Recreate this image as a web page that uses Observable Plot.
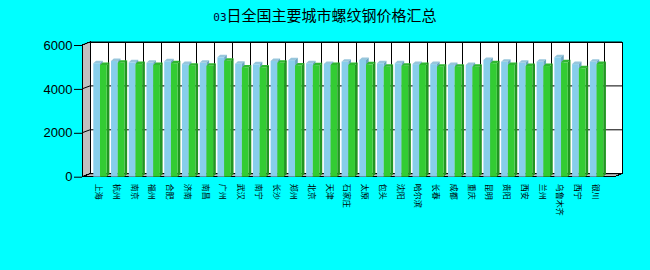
<!DOCTYPE html>
<html><head><meta charset="utf-8">
<script src="https://cdn.jsdelivr.net/npm/d3@7"></script>
<script src="https://cdn.jsdelivr.net/npm/@observablehq/plot@0.6"></script>
<style>
html,body{margin:0;padding:0;background:#00ffff;}
#title{height:30px;width:650px;text-align:center;font-family:"Noto Sans CJK SC";font-size:15px;line-height:30px;color:#000;}
#title .num{font-family:"DejaVu Sans Mono";font-size:11px;color:#000033;}
</style></head><body>
<div id="title"><span class="num">03</span>日全国主要城市螺纹钢价格汇总</div>
<div id="chart"></div>
<script>
const cities = ["上海","杭州","南京","福州","合肥","济南","南昌","广州","武汉","南宁","长沙","郑州","北京","天津","石家庄","太原","包头","沈阳","哈尔滨","长春","成都","重庆","昆明","贵阳","西安","兰州","乌鲁木齐","西宁","银川"];
const priceA = [5170,5270,5210,5190,5260,5130,5190,5440,5150,5120,5270,5310,5170,5140,5240,5320,5170,5170,5130,5130,5090,5090,5320,5240,5190,5240,5440,5130,5240];
const priceB = [5090,5190,5130,5090,5170,5060,5050,5280,4980,4980,5190,5070,5080,5090,5090,5120,5010,5060,5090,5010,5010,5010,5170,5090,5040,5040,5210,4940,5130];
const yTicks = [0, 2000, 4000, 6000];

const data = cities.map((c, i) => ({city: c, a: priceA[i], b: priceB[i]}));

const WALL = {dx: 8, dy: -3};
const BOX = {dx: 2.7, dy: -2.5, w: 6.7};
const OFF = {a: 11.3, b: 18};

function walls(index, scales, values, dim) {
  const x = scales.x, y = scales.y;
  const x0 = dim.marginLeft, x1 = dim.width - dim.marginRight;
  const yT = y(6000), yB = y(0);
  const g = d3.create("svg:g").attr("shape-rendering", "crispEdges");
  // floor
  g.append("path").attr("d", `M${x0},${yB}L${x0+WALL.dx},${yB+WALL.dy}L${x1+WALL.dx},${yB+WALL.dy}L${x1},${yB}Z`)
    .attr("fill", "#c0c0c0").attr("stroke", "black");
  // back wall
  g.append("rect").attr("x", x0 + WALL.dx).attr("y", yT + WALL.dy)
    .attr("width", x1 - x0).attr("height", yB - yT).attr("fill", "white").attr("stroke", "black");
  // side wall
  g.append("path").attr("d", `M${x0},${yB}L${x0},${yT}L${x0+WALL.dx},${yT+WALL.dy}L${x0+WALL.dx},${yB+WALL.dy}Z`)
    .attr("fill", "#c0c0c0").attr("stroke", "black");
  // horizontal grid
  for (const t of yTicks) {
    const yy = y(t);
    g.append("path").attr("d", `M${x0},${yy}L${x0+WALL.dx},${yy+WALL.dy}L${x1+WALL.dx},${yy+WALL.dy}`)
      .attr("fill", "none").attr("stroke", "black").attr("shape-rendering", "auto");
  }
  // vertical grid on back wall
  const xs = cities.map(c => x(c)).concat([x(cities[cities.length-1]) + x.step()]);
  for (const xx of xs) {
    g.append("line").attr("x1", Math.round(xx + WALL.dx) + 0.5).attr("x2", Math.round(xx + WALL.dx) + 0.5)
      .attr("y1", yT + WALL.dy).attr("y2", yB + WALL.dy).attr("stroke", "black");
  }
  // front floor edge
  g.append("line").attr("x1", x0).attr("x2", x1).attr("y1", yB).attr("y2", yB).attr("stroke", "black");
  return g.node();
}

function faces(key, topColor, sideColor) {
  return function(index, scales) {
    const x = scales.x, y = scales.y;
    const g = d3.create("svg:g");
    for (const d of data) {
      const xl = x(d.city) + OFF[key], xr = xl + BOX.w, yv = y(d[key]), y0 = y(0);
      g.append("path").attr("d", `M${xl},${yv}L${xl+BOX.dx},${yv+BOX.dy}L${xr+BOX.dx},${yv+BOX.dy}L${xr},${yv}Z`).attr("fill", topColor);
      g.append("path").attr("d", `M${xr},${yv}L${xr+BOX.dx},${yv+BOX.dy}L${xr+BOX.dx},${y0+BOX.dy}L${xr},${y0}Z`).attr("fill", sideColor);
    }
    return g.node();
  };
}

const chart = Plot.plot({
  width: 650,
  height: 240,
  marginLeft: 82,
  marginRight: 36,
  marginTop: 15,
  marginBottom: 93.3,
  style: {background: "transparent", fontFamily: "Liberation Sans", fontSize: "13px", color: "black"},
  x: {type: "band", domain: cities, paddingInner: 0, paddingOuter: 0.5, align: 0, round: false, axis: null},
  y: {domain: [0, 6000], ticks: yTicks, tickSize: 8, tickPadding: 2, label: null, tickFormat: d => String(d)},
  marks: [
    walls,
    faces("a", "#97c6dc", "#6aa5c0"),
    Plot.barY(data, {x: "city", y: "a", fill: "#87ceeb", insetLeft: 0, insetRight: 17.733 - BOX.w, dx: OFF.a}),
    faces("b", "#30b830", "#229622"),
    Plot.barY(data, {x: "city", y: "b", fill: "#33cc33", insetLeft: 0, insetRight: 17.733 - BOX.w, dx: OFF.b}),
    Plot.text(data, {x: "city", text: "city", frameAnchor: "bottom", rotate: 90, textAnchor: "start", dy: 6.5, dx: 4.8, fontSize: 8, fontFamily: "Noto Sans CJK SC", fill: "black"})
  ]
});
document.getElementById("chart").appendChild(chart);
</script>
</body></html>
